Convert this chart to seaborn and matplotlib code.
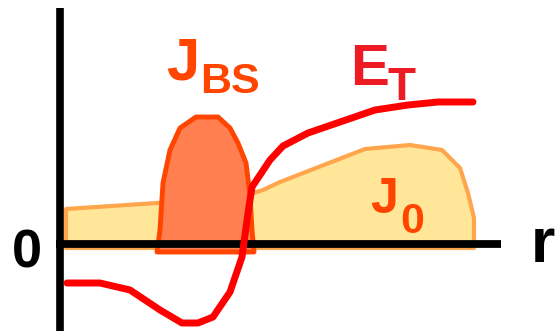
import matplotlib
matplotlib.use("Agg")
import matplotlib.pyplot as plt
import seaborn as sns
import pandas as pd

# Radial profiles (arbitrary units, zero at the r axis)
r_j0 = [0.06, 0.97, 1.90, 2.03, 2.20, 3.05, 3.50, 3.82, 4.00, 4.08, 4.14]
j0 = [0.35, 0.41, 0.50, 0.54, 0.62, 0.95, 0.99, 0.94, 0.76, 0.51, 0.26]
j0_floor = -0.04

r_jbs = [0.97, 1.00, 1.03, 1.10, 1.20, 1.36, 1.58, 1.70, 1.78, 1.86, 1.90, 1.92, 1.94]
jbs = [-0.08, 0.14, 0.61, 0.94, 1.16, 1.27, 1.27, 1.16, 1.01, 0.81, 0.49, 0.14, -0.08]

r_et = [0.07, 0.40, 0.70, 1.00, 1.22, 1.38, 1.53, 1.70, 1.82, 1.88, 1.92, 2.00,
        2.10, 2.23, 2.48, 3.15, 3.48, 3.78, 4.13]
et = [-0.39, -0.39, -0.46, -0.66, -0.79, -0.79, -0.73, -0.48, -0.13, 0.31, 0.57,
      0.69, 0.84, 0.98, 1.11, 1.34, 1.39, 1.42, 1.42]

sns.set_style("white")
plt.rcParams["font.family"] = ["Liberation Sans", "DejaVu Sans"]

fig = plt.figure(figsize=(5.55, 3.31), dpi=100)
ax = fig.add_axes([0, 0, 1, 1])

# J0: background current profile
ax.fill([r_j0[0]] + r_j0 + [r_j0[-1]], [j0_floor] + j0 + [j0_floor],
        facecolor="#FFE699", edgecolor="#FFA64D", linewidth=3, joinstyle="round", zorder=1)

# JBS: bootstrap current bump
ax.fill(r_jbs, jbs, facecolor="#FF7F50", edgecolor="#FF4500", linewidth=3.5,
        joinstyle="round", zorder=2)

# Axes drawn as thick black lines
ax.plot([0, 0], [-0.87, 2.36], color="black", lw=5.5, solid_capstyle="butt", zorder=3)
ax.plot([-0.04, 4.41], [0, 0], color="black", lw=5.6, solid_capstyle="butt", zorder=3)

# E_T: electric field profile
df = pd.DataFrame({"r": r_et, "E": et})
sns.lineplot(data=df, x="r", y="E", ax=ax, color="#FF0000", linewidth=5.0,
             sort=False, estimator=None, zorder=4)
ax.set_xlim(-0.60, 4.95)
ax.set_ylim(-0.87, 2.44)
ax.axis("off")

bold = dict(fontweight="bold", va="baseline", ha="left")
ax.text(-0.335, -0.23, "0", fontsize=39, color="black", fontweight="bold",
        va="baseline", ha="center")
ax.text(4.71, -0.18, "r", fontsize=45, color="black", **bold)

ax.text(1.06, 1.64, "J", fontsize=43, color="#FF4500", **bold)
ax.text(1.40, 1.51, "BS", fontsize=31, color="#FF4500", **bold)

ax.text(2.90, 1.59, "E", fontsize=42, color="#ED1C24", **bold)
ax.text(3.27, 1.44, "T", fontsize=33, color="#ED1C24", **bold)

ax.text(3.10, 0.31, "J", fontsize=36, color="#FF4500", **bold)
ax.text(3.40, 0.11, "0", fontsize=31, color="#FF4500", **bold)

fig.savefig("out.png", dpi=100)
